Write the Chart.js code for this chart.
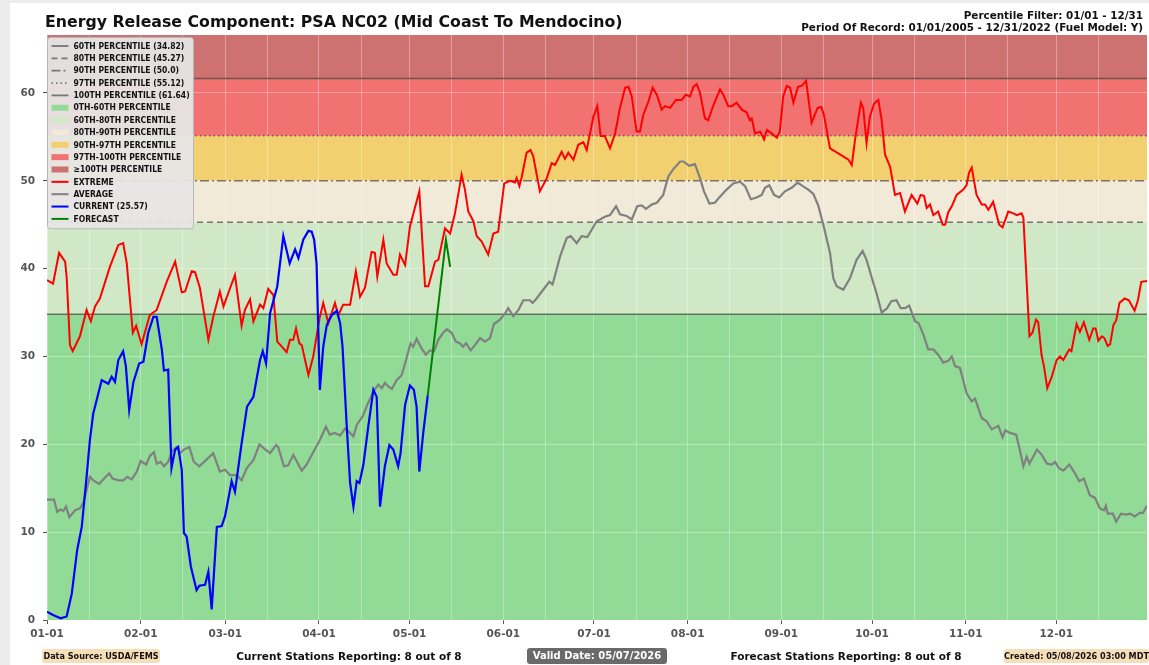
<!DOCTYPE html>
<html>
<head>
<meta charset="utf-8">
<title>ERC PSA NC02</title>
<script src="https://cdn.jsdelivr.net/npm/chart.js@4.4.1/dist/chart.umd.min.js"></script>
<style>
    html, body { margin: 0; padding: 0; }
    body { width: 1149px; height: 665px; background: #ececec; position: relative; overflow: hidden; font-family: 'DejaVu Sans', sans-serif; color: #111; }
    #panel { position: absolute; left: 10px; top: 3px; right: 0; bottom: 0; background: #fff; }
    #chart { position: absolute; left: 0; top: 0; }
    .txt { position: absolute; font-weight: bold; white-space: nowrap; }
    #title { left: 45px; top: 13px; font-size: 15.75px; line-height: 18px; }
    #filter { right: 6px; top: 9px; font-size: 10.4px; line-height: 12px; text-align: right; }
    .foot { top: 649px; height: 14px; line-height: 14px; font-size: 10.5px; }
    .tan { background: #f6dfb8; border-radius: 3px; font-family: 'DejaVu Sans Condensed', sans-serif; font-size: 9px; text-align: center; }
    #valid { background: #6a6a6a; color: #fff; border-radius: 3px; text-align: center; top: 648px; height: 16px; line-height: 16px; font-size: 10px; }
</style>
</head>
<body>
<div id="panel"></div>
<canvas id="chart" width="1149" height="665"></canvas>
<div class="txt" id="title">Energy Release Component: PSA NC02 (Mid Coast To Mendocino)</div>
<div class="txt" id="filter">Percentile Filter: 01/01 - 12/31<br>Period Of Record: 01/01/2005 - 12/31/2022 (Fuel Model: Y)</div>
<div class="txt foot tan" style="left:42px;width:118px;">Data Source: USDA/FEMS</div>
<div class="txt foot" style="left:199px;width:300px;text-align:center;">Current Stations Reporting: 8 out of 8</div>
<div class="txt foot" id="valid" style="left:527px;width:140px;">Valid Date: 05/07/2026</div>
<div class="txt foot" style="left:696px;width:300px;text-align:center;">Forecast Stations Reporting: 8 out of 8</div>
<div class="txt foot tan" style="left:1004px;width:145px;">Created: 05/08/2026 03:00 MDT</div>

<script>
// ---------- axis data ----------
const monthStarts = [0, 31, 59, 90, 120, 151, 181, 212, 243, 273, 304, 334];
const monthLabels = ['01-01', '02-01', '03-01', '04-01', '05-01', '06-01', '07-01', '08-01', '09-01', '10-01', '11-01', '12-01'];
const midMonths = [14, 45, 73, 104, 134, 165, 195, 226, 257, 287, 318, 348];
const dayMin = 0, dayMax = 364;
const yMax = 66.6;

// ---------- percentile thresholds ----------
const pctLevels = [34.82, 45.27, 50.0, 55.12, 61.64];
const pctNames = ['60TH PERCENTILE (34.82)', '80TH PERCENTILE (45.27)', '90TH PERCENTILE (50.0)', '97TH PERCENTILE (55.12)', '100TH PERCENTILE (61.64)'];
const bandEdges = [0, 34.82, 45.27, 50.0, 55.12, 61.64, yMax];
const bandNames = ['0TH-60TH PERCENTILE', '60TH-80TH PERCENTILE', '80TH-90TH PERCENTILE', '90TH-97TH PERCENTILE', '97TH-100TH PERCENTILE', '\u2265100TH PERCENTILE'];

// ---------- series (day of year, ERC) ----------
const extremeDays = [0, 2, 4, 6, 6.5, 7.6, 8.5, 10.9, 13.1, 14.5, 15.9, 17.5, 20.8, 23.6, 25.2, 26.4, 28.4, 29.5, 31.3, 34, 36.3, 39.6, 42.4, 44.6, 45.7, 47.9, 49, 50.6, 53.4, 55, 57.2, 58.4, 60.6, 62.2, 64.4, 65.5, 67.2, 68.3, 70.5, 71.6, 73.2, 74.9, 76.2, 77.5, 79.3, 80.4, 81.5, 82.4, 83.5, 84.3, 86.5, 88.1, 90.1, 91.4, 93.1, 95.3, 96.4, 98, 100.3, 102.2, 103.6, 105.2, 107.4, 108.5, 109.3, 111.3, 112.4, 114.6, 115.7, 116.8, 118.5, 120.1, 123.2, 125.1, 126.2, 128.4, 129.5, 131.7, 133.4, 135, 137.2, 138.3, 139.4, 141.1, 142.2, 143.8, 146, 147.7, 149.3, 151.3, 153.2, 154.9, 155.4, 156.3, 157, 158.7, 160, 160.9, 163.1, 165.4, 167, 168.1, 170.3, 171.4, 172.5, 174.2, 175.8, 177.5, 178.6, 180.8, 182.1, 183.2, 184.6, 186.3, 188, 189.6, 191.3, 192.4, 193.5, 195.1, 196.2, 197.3, 199, 200.4, 201.8, 203.4, 204.5, 206.2, 208.1, 210, 211.4, 212.8, 213.9, 215, 216.1, 217.7, 218.8, 220.5, 222.7, 223.8, 225.4, 226.6, 228.2, 229.9, 231.5, 232.6, 233.2, 234.3, 236, 237.3, 238.2, 239.8, 241.5, 242.5, 243.6, 244.8, 245.9, 247, 248.5, 249.7, 250.5, 251.2, 253, 255, 256.2, 257.1, 259.1, 262.4, 265.2, 266.3, 267.4, 269.3, 270.1, 271.2, 272.3, 273.7, 275.1, 276.2, 277.3, 279, 280.6, 282.3, 283.9, 286.1, 288, 289.1, 290.2, 291.1, 292.2, 293.3, 294.9, 296.4, 297.2, 298.2, 299.4, 301, 303.2, 304.3, 305.1, 306, 306.5, 307.6, 309.3, 310.4, 311.5, 313.1, 315.1, 316.2, 318.1, 319.8, 320.9, 322.5, 323.1, 325.1, 326.1, 327.3, 328, 329.1, 329.9, 331, 332.5, 334.1, 335.2, 336.3, 337.6, 338.3, 339, 340.7, 341.8, 343.1, 344.9, 346.2, 347, 347.9, 349.1, 349.9, 351, 351.8, 352.9, 353.8, 354.9, 356.6, 358, 359.9, 361, 362.1, 364];
const extremeVals = [38.7, 38.3, 41.8, 40.8, 39.1, 31.3, 30.6, 32.3, 35.3, 34.0, 35.7, 36.6, 40.2, 42.7, 42.9, 40.6, 32.7, 33.5, 31.4, 34.7, 35.3, 38.5, 40.8, 37.3, 37.4, 39.7, 39.6, 37.8, 31.9, 34.5, 37.4, 35.7, 37.8, 39.3, 33.5, 35.3, 36.5, 34.0, 35.9, 35.5, 37.7, 37.0, 31.7, 31.2, 30.5, 31.9, 31.9, 33.2, 31.5, 31.3, 27.9, 30.0, 34.2, 36.1, 33.8, 36.1, 34.7, 35.9, 35.9, 39.7, 36.8, 37.8, 41.9, 41.8, 39.1, 43.3, 40.6, 39.3, 39.3, 41.6, 40.4, 44.8, 48.8, 38.0, 38.0, 40.8, 41.0, 44.6, 44.0, 46.3, 50.7, 49.0, 46.5, 45.4, 43.7, 43.1, 41.6, 44.0, 44.2, 49.7, 50.0, 49.8, 50.3, 49.4, 50.3, 53.2, 53.5, 52.8, 48.8, 50.3, 52.0, 51.8, 53.3, 52.5, 53.2, 52.4, 54.1, 54.4, 53.5, 57.3, 58.5, 55.1, 55.1, 53.7, 55.4, 58.3, 60.6, 60.7, 59.6, 55.6, 55.6, 57.5, 59.0, 60.6, 59.8, 58.1, 58.5, 58.3, 59.2, 59.2, 59.8, 59.6, 60.7, 61.0, 60.0, 57.1, 56.9, 58.6, 60.4, 59.8, 58.5, 58.5, 58.9, 58.1, 57.8, 56.9, 57.1, 55.4, 55.6, 54.7, 55.8, 55.4, 54.9, 55.6, 59.6, 60.8, 60.6, 58.9, 60.7, 60.8, 61.1, 61.4, 56.6, 58.3, 58.4, 57.5, 53.7, 53.0, 52.4, 51.8, 54.7, 58.9, 58.3, 54.3, 57.3, 58.8, 59.2, 56.9, 53.0, 51.6, 48.4, 48.6, 46.5, 48.4, 47.4, 48.4, 48.3, 46.9, 47.3, 46.1, 46.5, 45.0, 45.0, 46.4, 47.1, 48.4, 49.0, 49.5, 50.9, 51.5, 50.5, 48.4, 47.3, 47.3, 46.7, 47.6, 45.0, 44.7, 46.5, 46.3, 46.1, 46.3, 45.8, 32.3, 32.7, 34.2, 33.9, 30.2, 28.9, 26.4, 27.7, 29.6, 30.0, 29.6, 30.4, 30.8, 30.6, 33.7, 32.8, 33.9, 31.9, 33.2, 33.2, 31.8, 32.3, 32.1, 31.2, 31.4, 33.6, 34.1, 36.1, 36.6, 36.4, 35.2, 36.4, 38.5, 38.6];

const averageDays = [0, 2.3, 3.4, 4.5, 5.4, 6.3, 7.4, 9.3, 10.9, 12, 14.2, 15.3, 17.3, 18.9, 20.6, 21.7, 23.6, 25.2, 26.6, 28, 29.7, 31, 32.8, 34.1, 35.4, 36.3, 37.6, 38.7, 40.1, 41.3, 42.9, 44, 45.3, 47.1, 48.6, 50.4, 52.6, 55, 57.2, 58.9, 60.6, 62.8, 64.4, 66.1, 68.3, 70.3, 71.6, 73.8, 75.8, 76.5, 78.4, 79.8, 81.5, 84.3, 85.9, 88.1, 90.3, 92.3, 93.6, 95.3, 97, 98.6, 100.3, 101.4, 102.5, 104.5, 106, 108, 109.6, 110.8, 111.8, 112.9, 114.1, 115.7, 117.4, 118.8, 120.3, 121.2, 122.3, 124, 125.4, 126.7, 128.1, 129.5, 131.1, 132.3, 133.9, 135.3, 136.7, 137.6, 138.7, 140.2, 141.6, 143.3, 144.9, 146.6, 147.9, 149.9, 151.6, 152.6, 154.3, 156, 157.6, 159.8, 160.7, 162, 164.2, 166.2, 167.3, 169.8, 172, 173.3, 175.3, 176.9, 178.8, 180.2, 181.9, 184.6, 186.3, 188.3, 189.6, 191.8, 193.5, 195.3, 196.8, 198.2, 200.1, 201.8, 203.9, 205.6, 207.2, 209.5, 210.6, 212.5, 214.4, 216.1, 217.4, 219.2, 221, 222.7, 224.9, 227.1, 229.3, 231, 232.9, 234.8, 236.5, 237.6, 239, 240.6, 242.3, 244.2, 246.4, 248.4, 250.1, 251.9, 253.6, 255.2, 256.9, 259.1, 260.2, 261.3, 263.5, 265.7, 267.9, 269.9, 271.2, 272.8, 274.5, 276.2, 278, 279.4, 281.1, 282.5, 283.9, 285.3, 287.3, 288.4, 290, 291.6, 293.3, 294.9, 296.6, 298.2, 299.4, 300.5, 302.1, 304.3, 306, 307.1, 309.3, 311, 312.6, 314.8, 316.2, 317.1, 318.7, 320.7, 321.7, 323.1, 324.2, 325.1, 327.6, 329.2, 330.9, 332.5, 333.6, 334.8, 336.3, 338.3, 339.8, 341.6, 343.1, 345.1, 346.8, 348.4, 349.8, 350.4, 351, 352.7, 353.8, 355.4, 357.1, 358.4, 359.9, 361.6, 362.7, 364];
const averageVals = [13.7, 13.7, 12.3, 12.6, 12.4, 12.9, 11.7, 12.5, 12.7, 13.3, 16.3, 15.9, 15.5, 16.1, 16.7, 16.1, 15.9, 15.9, 16.3, 16.0, 16.9, 18.1, 17.7, 18.7, 19.1, 17.8, 18.0, 17.5, 18.0, 19.2, 19.7, 19.0, 19.4, 19.7, 18.0, 17.5, 18.2, 19.0, 16.9, 17.1, 16.5, 16.5, 15.9, 17.3, 18.2, 20.0, 19.6, 19.0, 19.9, 19.7, 17.5, 17.6, 18.8, 17.0, 17.7, 19.1, 20.5, 22.0, 21.1, 21.3, 21.0, 21.8, 21.3, 20.9, 22.2, 23.2, 24.5, 26.0, 26.8, 26.4, 27.0, 26.6, 26.3, 27.3, 27.9, 29.6, 31.5, 31.1, 32.0, 30.9, 30.2, 30.7, 30.6, 31.9, 32.7, 33.1, 32.7, 31.7, 31.5, 31.1, 31.5, 30.7, 31.3, 32.1, 31.7, 32.1, 33.7, 34.2, 34.9, 35.5, 34.6, 35.3, 36.4, 36.4, 36.1, 36.6, 37.6, 38.5, 38.2, 41.4, 43.5, 43.7, 42.9, 43.7, 43.6, 44.4, 45.4, 45.9, 46.1, 47.1, 46.2, 46.0, 45.6, 47.1, 47.2, 46.8, 47.3, 47.5, 48.4, 50.5, 51.3, 52.2, 52.2, 51.7, 51.9, 50.3, 48.8, 47.4, 47.5, 48.2, 49.0, 49.7, 49.9, 49.4, 47.9, 48.1, 48.4, 49.2, 49.5, 48.4, 48.1, 48.8, 49.2, 49.8, 49.4, 49.0, 48.5, 47.2, 45.0, 41.8, 38.9, 38.0, 37.6, 38.9, 41.0, 42.0, 41.0, 39.1, 37.2, 35.0, 35.5, 36.3, 36.4, 35.5, 35.5, 35.8, 34.0, 33.8, 32.5, 30.8, 30.8, 30.2, 29.3, 29.5, 30.0, 28.9, 28.7, 25.8, 24.9, 25.2, 23.0, 22.6, 21.7, 22.1, 20.8, 21.6, 21.3, 21.1, 19.7, 17.5, 18.6, 17.8, 19.4, 18.8, 17.8, 17.7, 18.0, 17.3, 17.0, 17.7, 16.9, 15.8, 16.1, 14.2, 13.9, 12.7, 12.5, 13.0, 12.1, 12.1, 11.2, 12.1, 12.0, 12.1, 11.8, 12.2, 12.2, 13.0];

const currentDays = [0, 2, 4.5, 6.5, 8.2, 10, 11.5, 13.1, 14.2, 15.3, 15.9, 18.1, 20.3, 21.4, 22.5, 23.6, 25.2, 26.1, 27.2, 28.6, 30.5, 31.9, 33.5, 35.2, 36.3, 38, 38.7, 40.1, 41.2, 42.4, 43.4, 44.6, 45.3, 46.2, 47.6, 49.5, 50.4, 52.3, 53.4, 54.5, 56.2, 57.8, 58.9, 61.1, 62.2, 64.4, 66.2, 68.3, 70.5, 71.4, 72.5, 73.8, 76.2, 78.2, 80.3, 82.1, 83.2, 84.8, 86.5, 87.6, 88.4, 89.2, 90.3, 91.4, 92.6, 94.2, 95.9, 97, 97.8, 99.2, 100.3, 101.4, 102.5, 103.4, 104.7, 106.3, 108, 109.1, 110.2, 111.8, 113.3, 114.6, 116.2, 117, 118.5, 120.1, 121.4, 122.3, 123.2, 124.5, 126];
const currentVals = [0.95, 0.57, 0.2, 0.4, 3.0, 8.0, 10.6, 16.3, 20.5, 23.5, 24.3, 27.3, 26.9, 27.7, 27.1, 29.6, 30.6, 28.9, 23.9, 27.1, 29.2, 29.4, 32.7, 34.5, 34.5, 30.8, 28.4, 28.5, 17.3, 19.4, 19.7, 17.1, 9.9, 9.5, 6.1, 3.4, 3.9, 4.0, 5.5, 1.2, 10.6, 10.7, 11.8, 15.8, 14.6, 20.1, 24.3, 25.4, 29.6, 30.6, 29.2, 34.9, 38.0, 43.7, 40.6, 42.2, 41.2, 43.3, 44.3, 44.2, 43.3, 40.6, 26.2, 31.1, 33.6, 34.7, 35.2, 33.8, 31.1, 22.0, 15.6, 12.9, 15.8, 15.6, 17.7, 22.0, 26.2, 25.4, 12.9, 17.5, 19.9, 19.4, 17.5, 19.0, 24.5, 26.7, 26.2, 24.3, 16.9, 21.3, 25.57];

const forecastDays = [126, 132, 133.4];
const forecastVals = [25.57, 43.3, 40.2];

// ---------- styles ----------
const bandColors = ['rgb(145,219,150)', 'rgb(208,232,198)', 'rgb(241,234,217)', 'rgb(242,208,112)', 'rgb(242,113,113)', 'rgb(205,113,113)'];
const pctColor = 'rgba(45,45,45,0.62)';
const pctDash = [[], [6, 4], [9, 3, 2, 3], [1.5, 3], []];
const font = "'DejaVu Sans', sans-serif";

function pts(days, vals) { return days.map((d, i) => ({ x: d, y: vals[i] })); }
function flat(v) { return [{ x: dayMin, y: v }, { x: dayMax, y: v }]; }

const dataSets = [
    { label: 'CURRENT (25.57)', data: pts(currentDays, currentVals), borderColor: '#0000ff', borderWidth: 2.2 },
    { label: 'FORECAST', data: pts(forecastDays, forecastVals), borderColor: '#008000', borderWidth: 2 },
    { label: 'EXTREME', data: pts(extremeDays, extremeVals), borderColor: '#ff0000', borderWidth: 2 },
    { label: 'AVERAGE', data: pts(averageDays, averageVals), borderColor: '#808080', borderWidth: 2.2 }
];
const pctSets = pctLevels.map((v, i) => ({
    label: pctNames[i], data: flat(v), borderColor: pctColor, borderWidth: 1.5, borderDash: pctDash[i]
}));

// Percentile bands behind the grid
const bandPlugin = {
    id: 'bands',
    beforeDraw(chart) {
        const { ctx, chartArea: a, scales: { y } } = chart;
        ctx.save();
        for (let i = 0; i < bandColors.length; i++) {
            const top = y.getPixelForValue(bandEdges[i + 1]);
            const bot = y.getPixelForValue(bandEdges[i]);
            ctx.fillStyle = bandColors[i];
            ctx.fillRect(a.left, top, a.right - a.left, bot - top);
        }
        ctx.restore();
    }
};

// Legend box drawn on top, matplotlib style
const legendPlugin = {
    id: 'legendBox',
    afterDraw(chart) {
        const { ctx, chartArea: a } = chart;
        const byLabel = {};
        chart.data.datasets.forEach(d => byLabel[d.label] = d);
        const items = [];
        pctNames.forEach(n => items.push({ kind: 'line', label: n, ds: byLabel[n] }));
        bandNames.forEach((n, i) => items.push({ kind: 'patch', label: n, color: bandColors[i] }));
        ['EXTREME', 'AVERAGE', 'CURRENT (25.57)', 'FORECAST'].forEach(n => items.push({ kind: 'line', label: n, ds: byLabel[n] }));

        const x0 = a.left + 0.5, y0 = a.top + 2.5, w = 146, rowH = 12.35;
        const h = items.length * rowH + 6;
        ctx.save();
        ctx.fillStyle = 'rgba(229,229,229,0.94)';
        ctx.strokeStyle = '#b8b8b8';
        ctx.lineWidth = 1;
        ctx.beginPath();
        ctx.roundRect(x0, y0, w, h, 3);
        ctx.fill();
        ctx.stroke();

        ctx.font = "bold 8.5px 'DejaVu Sans Condensed', 'DejaVu Sans', sans-serif";
        ctx.textBaseline = 'middle';
        items.forEach((it, i) => {
            const cy = y0 + 8.5 + i * rowH;
            if (it.kind === 'patch') {
                ctx.fillStyle = it.color;
                ctx.fillRect(x0 + 4, cy - 3, 17, 6);
            } else {
                const ds = it.ds;
                const isPct = ds.borderColor === pctColor;
                ctx.strokeStyle = isPct ? '#777' : ds.borderColor;
                ctx.lineWidth = isPct ? 1.8 : 2;
                ctx.setLineDash(ds.borderDash || []);
                ctx.beginPath();
                ctx.moveTo(x0 + 4, cy);
                ctx.lineTo(x0 + 21, cy);
                ctx.stroke();
                ctx.setLineDash([]);
            }
            ctx.fillStyle = '#111';
            ctx.fillText(it.label, x0 + 26, cy + 0.5);
        });
        ctx.restore();
    }
};

new Chart(document.getElementById('chart'), {
    type: 'line',
    data: { datasets: dataSets.concat(pctSets) },
    options: {
        responsive: false,
        animation: false,
        layout: { padding: { left: 10, right: 2, top: 35, bottom: 0 } },
        elements: { point: { radius: 0 }, line: { tension: 0, fill: false } },
        plugins: { legend: { display: false }, tooltip: { enabled: false } },
        scales: {
            x: {
                type: 'linear', min: dayMin, max: dayMax,
                afterBuildTicks: s => { s.ticks = monthStarts.concat(midMonths).sort((p, q) => p - q).map(v => ({ value: v })); },
                afterFit: s => { s.height = 45; },
                border: { display: false },
                grid: {
                    color: 'rgba(255,255,255,0.32)', lineWidth: 1, tickLength: 4,
                    tickColor: c => monthStarts.includes(c.tick && c.tick.value) ? '#555' : 'rgba(0,0,0,0)'
                },
                ticks: {
                    autoSkip: false, maxRotation: 0, padding: 4, color: '#555',
                    font: { family: font, weight: 'bold', size: 10.5 },
                    callback: v => { const k = monthStarts.indexOf(v); return k >= 0 ? monthLabels[k] : ''; }
                }
            },
            y: {
                min: 0, max: yMax,
                afterFit: s => { s.width = 37; },
                border: { display: false },
                grid: { color: 'rgba(255,255,255,0.32)', lineWidth: 1, tickLength: 4, tickColor: '#555' },
                ticks: { stepSize: 10, includeBounds: false, padding: 8, color: '#555', font: { family: font, weight: 'bold', size: 10.5 } }
            }
        }
    },
    plugins: [bandPlugin, legendPlugin]
});
</script>
</body>
</html>
